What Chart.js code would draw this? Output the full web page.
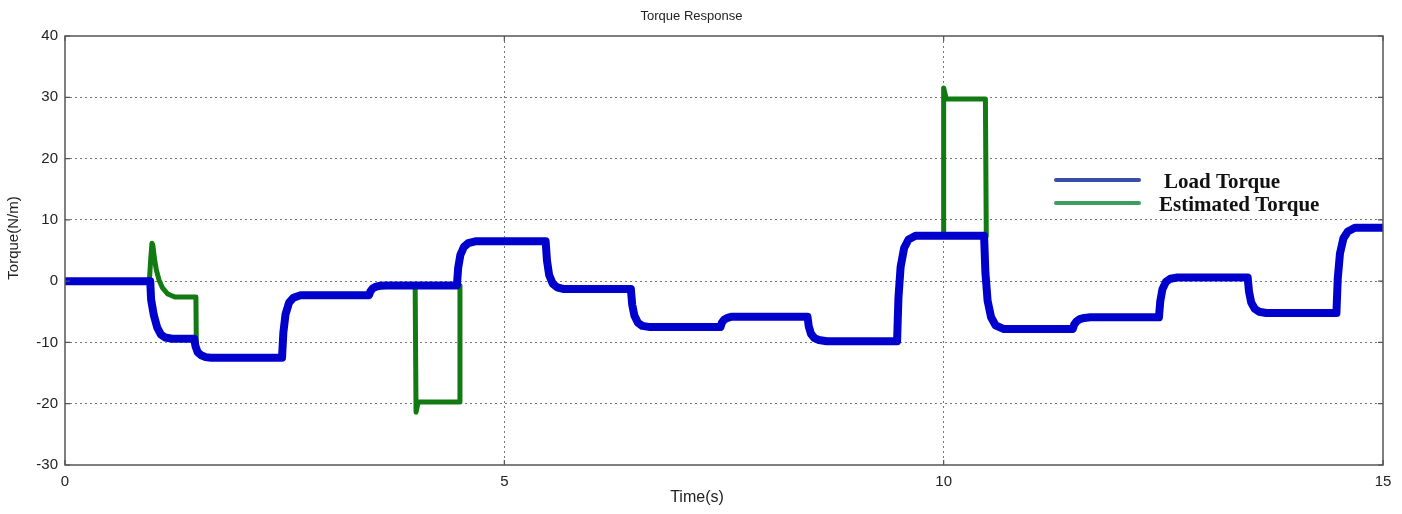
<!DOCTYPE html>
<html>
<head>
<meta charset="utf-8">
<script src="https://cdn.jsdelivr.net/npm/chart.js@4.4.0/dist/chart.umd.min.js"></script>
<style>
  html, body { margin: 0; padding: 0; background: #fff; }
  #wrap { width: 1402px; height: 514px; }
</style>
</head>
<body>
<div id="wrap"><canvas id="myChart" width="1402" height="514"></canvas></div>
<script>
// ---- data ----
const xTicks = [0, 5, 10, 15];
const yTicks = [-30, -20, -10, 0, 10, 20, 30, 40];

// load torque (blue)
const loadTime = [0, 0.97, 0.98, 1.01, 1.05, 1.09, 1.14, 1.22,
  1.47, 1.485, 1.51, 1.55, 1.6, 1.66,
  2.47, 2.485, 2.51, 2.55, 2.6, 2.68,
  3.46, 3.475, 3.5, 3.54, 3.59, 3.66,
  4.46, 4.475, 4.5, 4.54, 4.59, 4.67,
  5.47, 5.485, 5.51, 5.55, 5.6, 5.68,
  6.44, 6.455, 6.48, 6.52, 6.57, 6.66,
  7.46, 7.475, 7.5, 7.54, 7.59, 7.67,
  8.45, 8.465, 8.49, 8.53, 8.58, 8.67,
  9.47, 9.485, 9.51, 9.55, 9.6, 9.68,
  10.46, 10.475, 10.5, 10.54, 10.59, 10.68,
  11.47, 11.485, 11.51, 11.55, 11.6, 11.67,
  12.45, 12.465, 12.49, 12.53, 12.58, 12.66,
  13.46, 13.475, 13.5, 13.54, 13.59, 13.67,
  14.47, 14.485, 14.51, 14.55, 14.6, 14.68, 15];
const loadTorque = [0, 0, -3, -5.5, -7.6, -8.7, -9.2, -9.4,
  -9.4, -10.6, -11.6, -12.1, -12.4, -12.5,
  -12.5, -8.4, -5.4, -3.5, -2.7, -2.3,
  -2.3, -1.7, -1.2, -0.9, -0.75, -0.7,
  -0.7, 2.2, 4.3, 5.6, 6.2, 6.5,
  6.5, 3.4, 1.0, -0.4, -1.0, -1.3,
  -1.3, -3.8, -5.6, -6.8, -7.3, -7.5,
  -7.5, -6.8, -6.3, -6.0, -5.8, -5.8,
  -5.8, -7.4, -8.6, -9.3, -9.6, -9.8,
  -9.8, -2.8, 2.3, 5.4, 6.8, 7.4,
  7.4, 1.4, -3.2, -5.9, -7.2, -7.8,
  -7.8, -7.1, -6.6, -6.2, -6.0, -5.9,
  -5.9, -3.3, -1.3, -0.1, 0.4, 0.6,
  0.6, -1.7, -3.5, -4.5, -5.0, -5.2,
  -5.2, 0.4, 4.5, 7.0, 8.1, 8.7, 8.7];

// estimated torque (green), only where it leaves the load curve
const estTime = [0.96, 0.975, 0.99, 1.0, 1.02, 1.04, 1.07, 1.11, 1.17, 1.25, 1.49, 1.495,
  2.5,
  3.985, 3.995, 4.02, 4.49, 4.495,
  7,
  9.995, 10.0, 10.03, 10.475, 10.485];
const estTorque = [0, 3.5, 6.2, 5.8, 3.5, 1.8, 0.2, -1.1, -2.1, -2.6, -2.6, -11.6,
  null,
  -0.7, -21.4, -19.7, -19.7, -0.7,
  null,
  7.4, 31.5, 29.7, 29.7, 7.4];

const seriesNames = ['Load Torque', 'Estimated Torque'];

const toPoints = (xs, ys) => xs.map((x, i) => ({ x: x, y: ys[i] }));

// frame, inward ticks, axis titles and legend (matlab look)
const decorPlugin = {
  id: 'decor',
  afterDatasetsDraw(chart) {
    const ctx = chart.ctx, a = chart.chartArea;
    const xs = chart.scales.x, ys = chart.scales.y;
    ctx.save();
    ctx.strokeStyle = '#555';
    ctx.lineWidth = 1.5;
    ctx.setLineDash([]);
    ctx.strokeRect(a.left, a.top, a.right - a.left, a.bottom - a.top);
    ctx.lineWidth = 1.2;
    ctx.beginPath();
    yTicks.forEach(v => {
      const p = ys.getPixelForValue(v);
      ctx.moveTo(a.left, p); ctx.lineTo(a.left + 5, p);
      ctx.moveTo(a.right, p); ctx.lineTo(a.right - 5, p);
    });
    xTicks.forEach(v => {
      const p = xs.getPixelForValue(v);
      ctx.moveTo(p, a.bottom); ctx.lineTo(p, a.bottom - 5);
      ctx.moveTo(p, a.top); ctx.lineTo(p, a.top + 5);
    });
    ctx.stroke();

    // axis titles
    ctx.fillStyle = '#222';
    ctx.font = '16px "Liberation Sans", Arial, sans-serif';
    ctx.textAlign = 'center';
    ctx.textBaseline = 'middle';
    ctx.fillText('Time(s)', 697, 498);
    ctx.save();
    ctx.translate(14, 238);
    ctx.rotate(-Math.PI / 2);
    ctx.font = '15px "Liberation Sans", Arial, sans-serif';
    ctx.fillText('Torque(N/m)', 0, 0);
    ctx.restore();

    // legend
    const legendColors = ['#3c4ba6', '#3b9e5c'];
    const legendY = [180, 203];
    const textX = [1164, 1159];
    ctx.lineWidth = 4;
    ctx.lineCap = 'round';
    ctx.font = 'bold 21px "Liberation Serif", "Times New Roman", serif';
    ctx.textAlign = 'left';
    ctx.textBaseline = 'alphabetic';
    seriesNames.forEach((name, i) => {
      ctx.strokeStyle = legendColors[i];
      ctx.beginPath();
      ctx.moveTo(1056, legendY[i]);
      ctx.lineTo(1139, legendY[i]);
      ctx.stroke();
      ctx.fillStyle = '#111';
      ctx.fillText(name, textX[i], legendY[i] + 8);
    });
    ctx.restore();
  }
};

const gridColor = (edges) => (c) => (c.tick && edges.includes(c.tick.value)) ? 'rgba(0,0,0,0)' : '#777';

const ctx = document.getElementById('myChart').getContext('2d');

new Chart(ctx, {
  type: 'line',
  data: {
    datasets: [{
      label: seriesNames[0],
      data: toPoints(loadTime, loadTorque),
      borderColor: '#0000cd',
      borderWidth: 8,
      pointRadius: 0,
      tension: 0,
      borderJoinStyle: 'round',
      borderCapStyle: 'round'
    },
    {
      label: seriesNames[1],
      data: toPoints(estTime, estTorque),
      borderColor: '#127a12',
      borderWidth: 5,
      pointRadius: 0,
      tension: 0,
      spanGaps: false,
      borderJoinStyle: 'round',
      borderCapStyle: 'round'
    }]
  },
  options: {
    responsive: false,
    animation: false,
    layout: { padding: { left: 0, right: 19, top: 0, bottom: 0 } },
    scales: {
      x: {
        type: 'linear',
        min: 0,
        max: 15,
        afterBuildTicks: (s) => { s.ticks = xTicks.map(v => ({ value: v })); },
        afterFit: (s) => { s.height = 49; },
        grid: { color: gridColor([0, 15]), lineWidth: 1, drawTicks: false },
        border: { display: false, dash: [2, 3] },
        ticks: {
          padding: 8,
          color: '#222',
          font: { size: 15, family: '"Liberation Sans", Arial, sans-serif' },
          maxRotation: 0
        }
      },
      y: {
        min: -30,
        max: 40,
        afterBuildTicks: (s) => { s.ticks = yTicks.map(v => ({ value: v })); },
        afterFit: (s) => { s.width = 65; },
        grid: { color: gridColor([-30, 40]), lineWidth: 1, drawTicks: false },
        border: { display: false, dash: [2, 3] },
        ticks: {
          padding: 7,
          color: '#222',
          font: { size: 15, family: '"Liberation Sans", Arial, sans-serif' }
        }
      }
    },
    plugins: {
      legend: { display: false },
      tooltip: { enabled: false },
      title: {
        display: true,
        text: 'Torque Response',
        color: '#222',
        font: { size: 13, weight: 'normal', family: '"Liberation Sans", Arial, sans-serif' },
        padding: { top: 9, bottom: 11.4 }
      }
    }
  },
  plugins: [decorPlugin]
});
</script>
</body>
</html>
